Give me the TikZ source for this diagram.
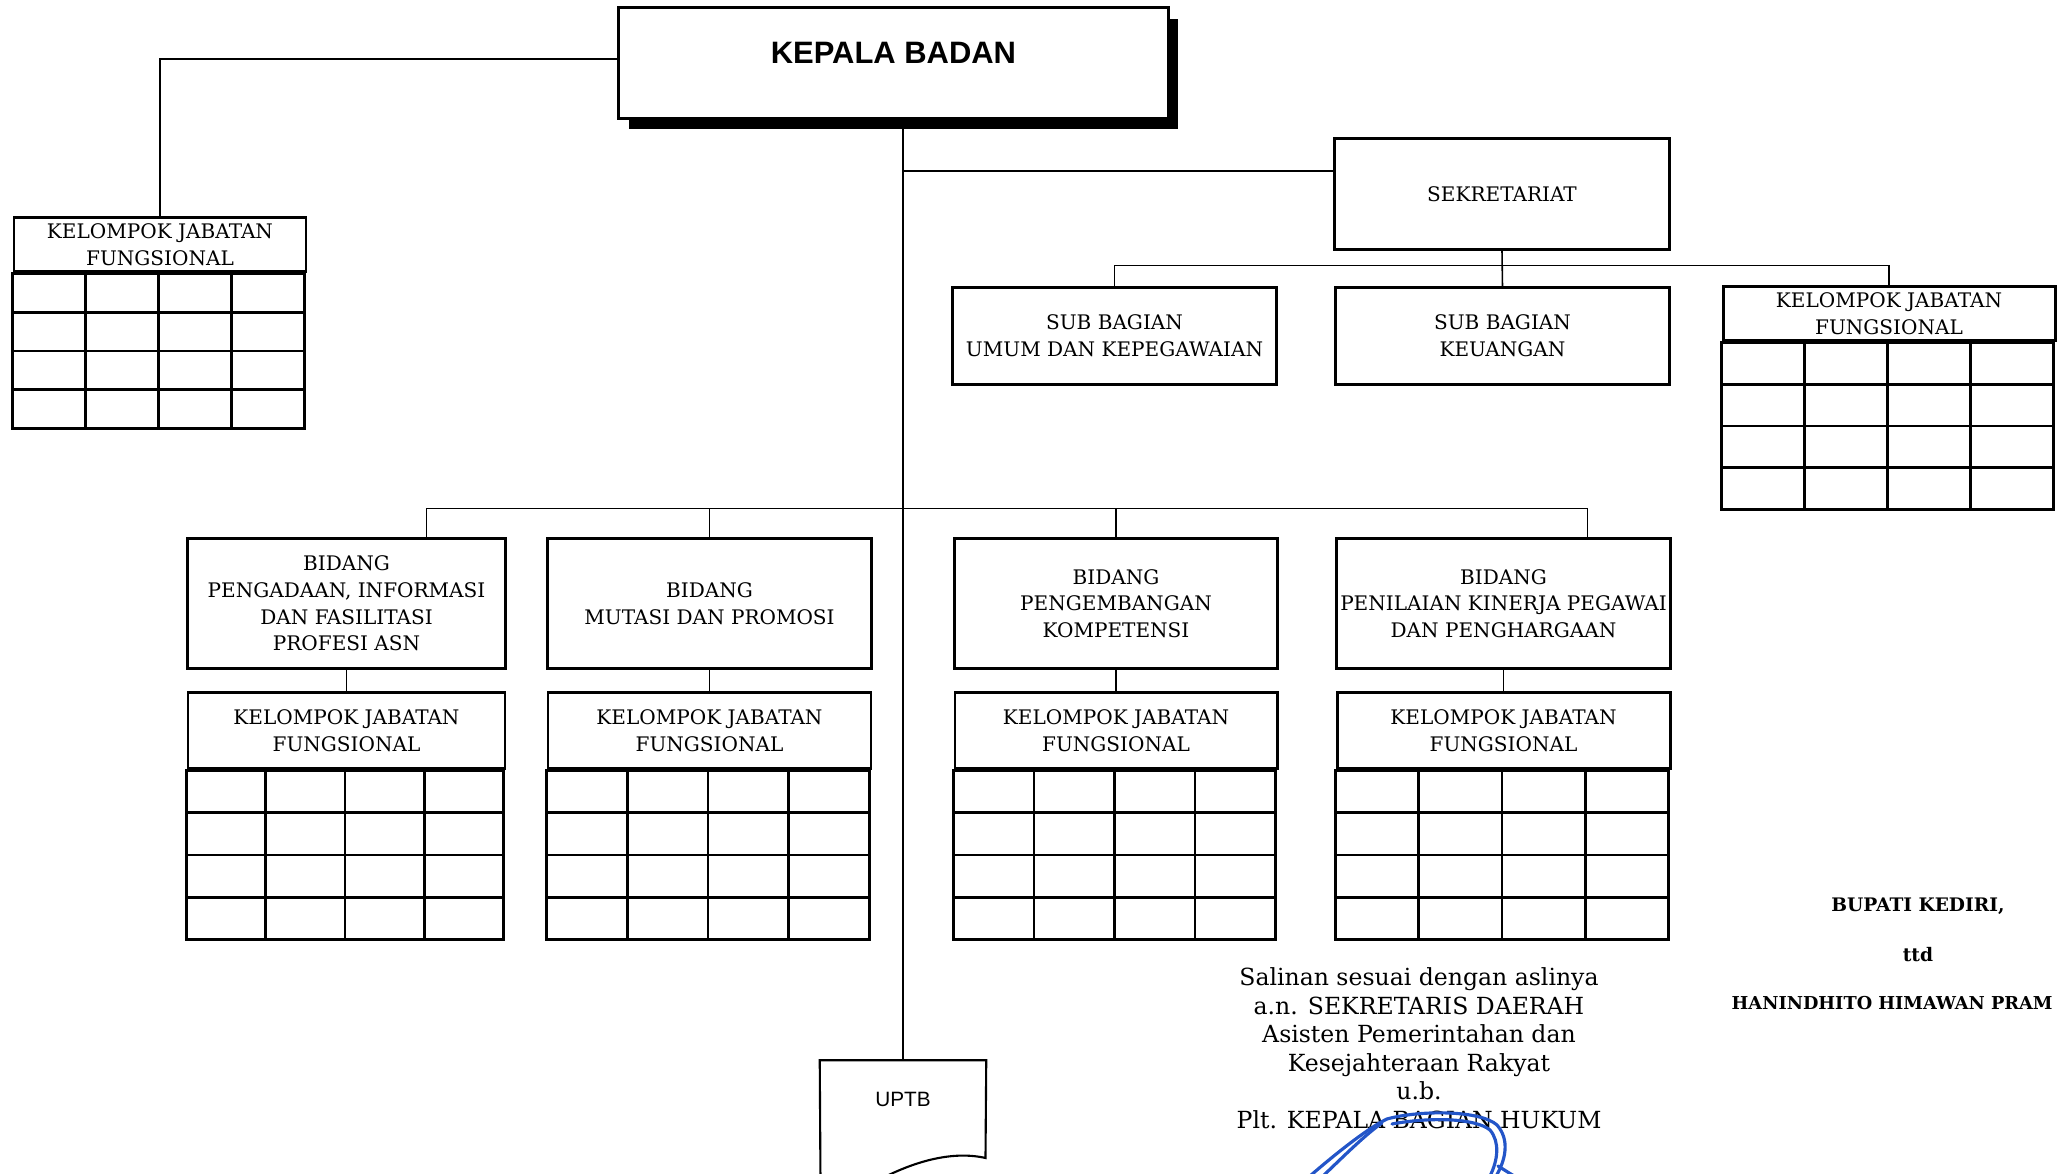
\documentclass[tikz,border=0pt]{standalone}
\usepackage{fontspec}
\setmainfont{DejaVu Serif}
\newfontfamily\arialfont{Liberation Sans}
\usetikzlibrary{calc, shadows}

\newcommand\orgfont{\fontsize{5.7}{7.6}\selectfont}
\newcommand\headfont{\arialfont\bfseries\fontsize{8.8}{10}\selectfont}
\newcommand\uptbfont{\arialfont\fontsize{5.9}{7}\selectfont}
\newcommand\notefont{\fontsize{6.7}{8.1}\selectfont}
\newcommand\signfont{\bfseries\fontsize{5.3}{6.5}\selectfont}

\definecolor{inkblue}{RGB}{35,85,200}

\tikzset{
  orgbox/.style = {draw, line width = .85pt, fill = white, align = center,
                   inner sep = 0pt, font = \orgfont},
  cellline/.style = {line width = .75pt},
  link/.style = {line width = .45pt},
  inkline/.style = {draw = inkblue, line width = .9pt, line cap = round}
}

\begin{document}
\begin{tikzpicture}[x = .01cm, y = -.01cm]
  \useasboundingbox (0,0) rectangle (2062,1174);

  \node [orgbox, font = \headfont, minimum width = 5.49cm, minimum height = 1.1cm,
         text height = .22cm, text depth = .2cm,
         drop shadow = {shadow xshift = .1cm, shadow yshift = -.11cm,
                        fill = black, opacity = 1}]
    (kepala) at (893.5,63) {KEPALA BADAN};

  \node [orgbox, minimum width = 3.34cm, minimum height = 1.1cm]
    (sekretariat) at (1502,194) {SEKRETARIAT};
  \node [orgbox, minimum width = 3.23cm, minimum height = .96cm]
    (umum) at (1114.5,336) {SUB BAGIAN\\UMUM DAN KEPEGAWAIAN};
  \node [orgbox, minimum width = 3.33cm, minimum height = .96cm]
    (keuangan) at (1502.5,336) {SUB BAGIAN\\KEUANGAN};

  \node [orgbox, minimum width = 3.17cm, minimum height = 1.29cm] (pengadaan)
    at (346.5,603.5) {BIDANG\\PENGADAAN, INFORMASI\\DAN FASILITASI\\PROFESI ASN};
  \node [orgbox, minimum width = 3.23cm, minimum height = 1.29cm] (mutasi)
    at (709.5,603.5) {BIDANG\\MUTASI DAN PROMOSI};
  \node [orgbox, minimum width = 3.22cm, minimum height = 1.29cm] (kompetensi)
    at (1116,603.5) {BIDANG\\PENGEMBANGAN\\KOMPETENSI};
  \node [orgbox, minimum width = 3.33cm, minimum height = 1.29cm] (penilaian)
    at (1503.5,603.5) {BIDANG\\PENILAIAN KINERJA PEGAWAI\\DAN PENGHARGAAN};

  % kelompok jabatan fungsional tables
  \foreach \nm/\x/\y/\w/\h/\r in {kjfkiri/160/245/292/54/38.75,
      kjfsek/1889/314/332/54/41.75, kjfa/346.5/731/317/76/42.25,
      kjfb/709.5/731/323/76/42.25, kjfc/1116/731/322/76/42.25,
      kjfd/1503.5/731/333/76/42.25} {
    \node [orgbox, minimum width = \w*.01cm, minimum height = \h*.01cm]
      (\nm) at (\x,\y) {KELOMPOK JABATAN\\FUNGSIONAL};
    \draw [line width = .85pt] (\nm.south west) rectangle ++(\w,4*\r);
    \foreach \i in {1,2,3} {
      \draw [cellline] (\nm.south west) ++(\i*\w/4,0) -- ++(0,4*\r);
      \draw [cellline] (\nm.south west) ++(0,\i*\r) -- ++(\w,0);
    }
  }

  \node [font = \uptbfont, inner sep = 0pt, minimum width = 1.65cm,
         minimum height = .76cm] (uptb) at (903,1099) {UPTB};
  \draw [line width = .6pt] (uptb.north west) -- (uptb.north east)
    -- (985.5,1158) .. controls (950,1150) and (910,1163) .. (875,1182)
    -- (820.5,1182) -- cycle;

  % connectors
  \draw [link] ([yshift = .04cm]kepala.west) -| (kjfkiri.north);
  \draw [link] (kepala.south -| uptb.north) -- (uptb.north);
  \draw [link] ([yshift = .23cm]sekretariat.west)
    -- ([yshift = .23cm]sekretariat.west -| uptb.north);
  \draw [link] (sekretariat.south) -- (keuangan.north);
  \draw [link] (umum.north) -- ++(0,-21) -| (kjfsek.north);
  \draw [link] ($(pengadaan.north west)!.75!(pengadaan.north east)$)
    -- ++(0,-29) -| ($(penilaian.north west)!.75!(penilaian.north east)$);
  \draw [link] (mutasi.north) -- ++(0,-29);
  \draw [link] (kompetensi.north) -- ++(0,-29);
  \foreach \b/\k in {pengadaan/kjfa, mutasi/kjfb, kompetensi/kjfc, penilaian/kjfd}
    \draw [link] (\b.south) -- (\k.north);

  % signatures
  \node [font = \notefont, align = center, inner sep = 0pt, anchor = north]
    (salinan) at (1419,967) {Salinan sesuai dengan aslinya\\a.n. SEKRETARIS DAERAH\\
    Asisten Pemerintahan dan\\Kesejahteraan Rakyat\\u.b.\\Plt. KEPALA BAGIAN HUKUM};
  \node [font = \signfont] (bupati) at (1918,906) {BUPATI KEDIRI,};
  \node [font = \signfont] (ttd) at (1918,955) {ttd};
  \node [font = \bfseries\fontsize{5.05}{6}\selectfont, anchor = west, inner sep = 0pt]
    (nama) at (1731,1003) {HANINDHITO HIMAWAN PRAM};

  \draw [inkline] (1310,1176) .. controls (1340,1150) and (1370,1127) .. (1387,1119)
    .. controls (1420,1110) and (1480,1110) .. (1497,1125)
    .. controls (1510,1140) and (1506,1160) .. (1495,1178);
  \draw [inkline] (1323,1176) .. controls (1345,1155) and (1365,1135) .. (1382,1123);
  \draw [inkline] (1392,1124) .. controls (1430,1117) and (1475,1118) .. (1490,1130)
    .. controls (1500,1142) and (1498,1160) .. (1490,1176);
  \draw [inkline] (1498,1166) -- (1514,1176);
\end{tikzpicture}
\end{document}
